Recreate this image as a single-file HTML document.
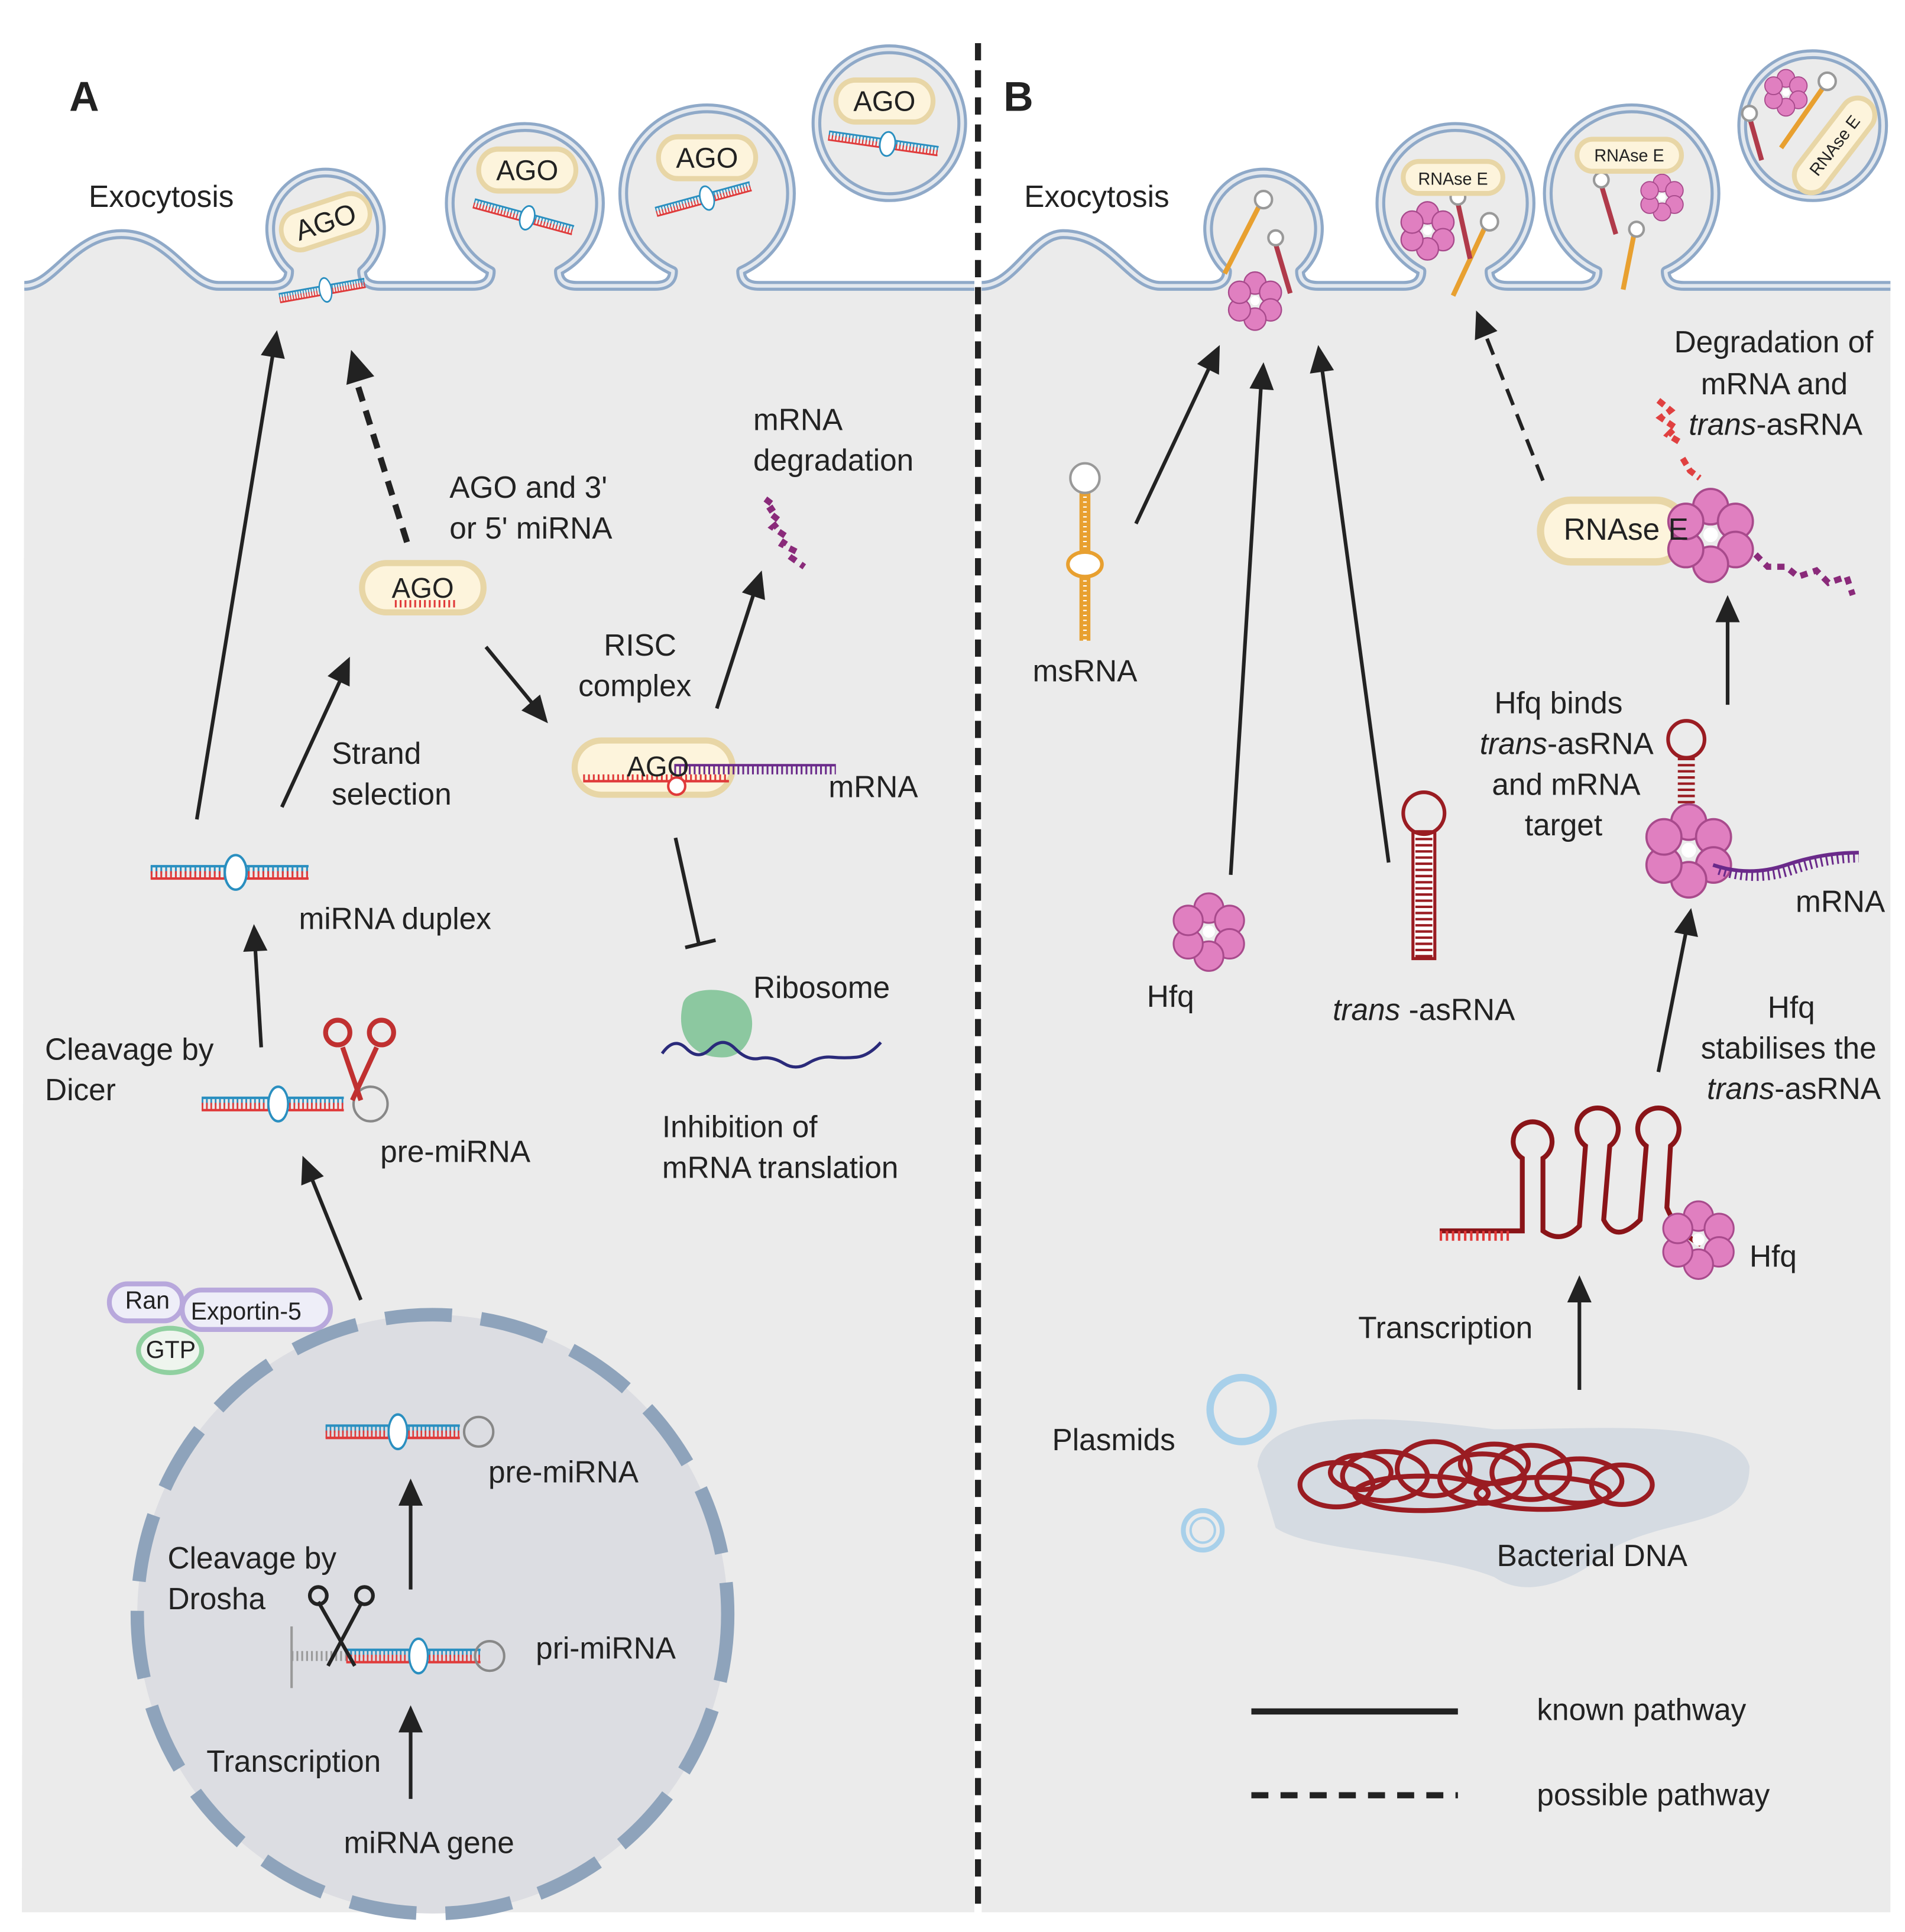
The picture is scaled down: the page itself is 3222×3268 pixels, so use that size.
<!DOCTYPE html>
<html><head><meta charset="utf-8"><style>
html,body{margin:0;padding:0;background:#fff}
svg{display:block}
text{font-family:"Liberation Sans",sans-serif;font-size:25px;fill:#222}
</style></head><body>
<svg width="3222" height="3268" viewBox="0 0 1568 1568" preserveAspectRatio="none" xmlns="http://www.w3.org/2000/svg">
<defs>
<g id="hfq">
<circle cx="0" cy="-19" r="12" fill="#e07fc0" stroke="#a84a8c" stroke-width="1.5"/>
<circle cx="17" cy="-9" r="12" fill="#e07fc0" stroke="#a84a8c" stroke-width="1.5"/>
<circle cx="17" cy="10" r="12" fill="#e07fc0" stroke="#a84a8c" stroke-width="1.5"/>
<circle cx="0" cy="20" r="12" fill="#e07fc0" stroke="#a84a8c" stroke-width="1.5"/>
<circle cx="-17" cy="10" r="12" fill="#e07fc0" stroke="#a84a8c" stroke-width="1.5"/>
<circle cx="-17" cy="-9" r="12" fill="#e07fc0" stroke="#a84a8c" stroke-width="1.5"/>
<circle cx="0" cy="0" r="5" fill="#fff"/>
</g>
<g id="dup">
<line x1="0" y1="-5" x2="130" y2="-5" stroke="#2a8fc0" stroke-width="2"/>
<line x1="0" y1="-2" x2="130" y2="-2" stroke="#2a8fc0" stroke-width="6" stroke-dasharray="1.5 2.5"/>
<line x1="0" y1="5" x2="130" y2="5" stroke="#e03a3a" stroke-width="2"/>
<line x1="0" y1="2" x2="130" y2="2" stroke="#e03a3a" stroke-width="6" stroke-dasharray="1.5 2.5"/>
<ellipse cx="70" cy="0" rx="9" ry="14" fill="#fff" stroke="#2a8fc0" stroke-width="2"/>
</g>
<g id="ago">
<rect x="-50" y="-20" width="100" height="40" rx="20" fill="#fdf4dc" stroke="#e8d6a6" stroke-width="5"/>
</g>
</defs>

<path d="M20 232 C45 232 60 190 100 190 C140 190 155 232 180 232 L223 232 Q238 232 238 220 A45.6 45.6 0 1 1 298 220 Q298 232 313 232 L389 232 Q404 232 404 220 A61.8 61.8 0 1 1 460 220 Q460 232 475 232 L539 232 Q554 232 554 220 A69 69 0 1 1 610 220 Q610 232 625 232 L802 232 L802 1552 L18 1552 Z" fill="#ebebeb"/>
<path d="M808 232 C835 232 850 190 875 190 C915 190 930 232 955 232 L995 232 Q1010 232 1010 220 A45.6 45.6 0 1 1 1070 220 Q1070 232 1085 232 L1155 232 Q1170 232 1170 220 A61.8 61.8 0 1 1 1226 220 Q1226 232 1241 232 L1300 232 Q1315 232 1315 220 A69 69 0 1 1 1371 220 Q1371 232 1386 232 L1556 232 L1556 1552 L808 1552 Z" fill="#ebebeb"/>
<g fill="none" stroke-linejoin="round">
<path d="M20 232 C45 232 60 190 100 190 C140 190 155 232 180 232 L223 232 Q238 232 238 220 A45.6 45.6 0 1 1 298 220 Q298 232 313 232 L389 232 Q404 232 404 220 A61.8 61.8 0 1 1 460 220 Q460 232 475 232 L539 232 Q554 232 554 220 A69 69 0 1 1 610 220 Q610 232 625 232 L802 232" stroke="#8fa9c8" stroke-width="8"/>
<path d="M20 232 C45 232 60 190 100 190 C140 190 155 232 180 232 L223 232 Q238 232 238 220 A45.6 45.6 0 1 1 298 220 Q298 232 313 232 L389 232 Q404 232 404 220 A61.8 61.8 0 1 1 460 220 Q460 232 475 232 L539 232 Q554 232 554 220 A69 69 0 1 1 610 220 Q610 232 625 232 L802 232" stroke="#e3e8ee" stroke-width="3"/>
<path d="M808 232 C835 232 850 190 875 190 C915 190 930 232 955 232 L995 232 Q1010 232 1010 220 A45.6 45.6 0 1 1 1070 220 Q1070 232 1085 232 L1155 232 Q1170 232 1170 220 A61.8 61.8 0 1 1 1226 220 Q1226 232 1241 232 L1300 232 Q1315 232 1315 220 A69 69 0 1 1 1371 220 Q1371 232 1386 232 L1556 232" stroke="#8fa9c8" stroke-width="8"/>
<path d="M808 232 C835 232 850 190 875 190 C915 190 930 232 955 232 L995 232 Q1010 232 1010 220 A45.6 45.6 0 1 1 1070 220 Q1070 232 1085 232 L1155 232 Q1170 232 1170 220 A61.8 61.8 0 1 1 1226 220 Q1226 232 1241 232 L1300 232 Q1315 232 1315 220 A69 69 0 1 1 1371 220 Q1371 232 1386 232 L1556 232" stroke="#e3e8ee" stroke-width="3"/>
</g>
<circle cx="732" cy="100" r="60" fill="#ebebeb" stroke="#8fa9c8" stroke-width="8"/>
<circle cx="732" cy="100" r="60" fill="none" stroke="#e3e8ee" stroke-width="3"/>
<circle cx="1492" cy="102" r="58" fill="#ebebeb" stroke="#8fa9c8" stroke-width="8"/>
<circle cx="1492" cy="102" r="58" fill="none" stroke="#e3e8ee" stroke-width="3"/>

<line x1="805" y1="35" x2="805" y2="1552" stroke="#222" stroke-width="5" stroke-dasharray="14 8"/>

<g transform="translate(268,180) rotate(-18)"><use href="#ago" transform="scale(0.75,0.8)"/><text x="0" y="8" text-anchor="middle" style="font-size:23px">AGO</text></g>
<use href="#dup" transform="translate(230,242) rotate(-10) scale(0.55,0.7)"/>
<use href="#ago" transform="translate(434,138) scale(0.8,0.85)"/><text x="434" y="146" text-anchor="middle" style="font-size:23px">AGO</text>
<use href="#dup" transform="translate(390,165) rotate(15) scale(0.65,0.7)"/>
<use href="#ago" transform="translate(582,128) scale(0.8,0.85)"/><text x="582" y="136" text-anchor="middle" style="font-size:23px">AGO</text>
<use href="#dup" transform="translate(540,172) rotate(-15) scale(0.62,0.7)"/>
<use href="#ago" transform="translate(728,82) scale(0.8,0.85)"/><text x="728" y="90" text-anchor="middle" style="font-size:23px">AGO</text>
<use href="#dup" transform="translate(682,110) rotate(8) scale(0.7,0.7)"/>

<g stroke="#e8a030" stroke-width="4" fill="none"><line x1="1008" y1="222" x2="1036" y2="168"/><line x1="1196" y1="240" x2="1222" y2="185"/><line x1="1336" y1="235" x2="1345" y2="190"/><line x1="1466" y1="120" x2="1500" y2="72"/></g>
<g stroke="#b03a4a" stroke-width="4" fill="none"><line x1="1062" y1="238" x2="1050" y2="198"/><line x1="1210" y1="210" x2="1200" y2="165"/><line x1="1330" y1="190" x2="1318" y2="150"/><line x1="1450" y1="130" x2="1440" y2="95"/></g>
<g fill="#fff" stroke="#999" stroke-width="2"><circle cx="1040" cy="162" r="7"/><circle cx="1050" cy="193" r="6"/><circle cx="1226" cy="180" r="7"/><circle cx="1200" cy="160" r="6"/><circle cx="1347" cy="186" r="6"/><circle cx="1318" cy="146" r="6"/><circle cx="1504" cy="66" r="7"/><circle cx="1440" cy="92" r="6"/></g>
<use href="#hfq" transform="translate(1033,244) scale(0.75)"/>
<use href="#hfq" transform="translate(1175,187) scale(0.75)"/>
<use href="#hfq" transform="translate(1368,160) scale(0.6)"/>
<use href="#hfq" transform="translate(1470,75) scale(0.6)"/>
<rect x="1155" y="131" width="82" height="26" rx="13" fill="#fdf4dc" stroke="#e8d6a6" stroke-width="4"/><text x="1196" y="150" text-anchor="middle" style="font-size:14px">RNAse E</text>
<rect x="1298" y="113" width="86" height="26" rx="13" fill="#fdf4dc" stroke="#e8d6a6" stroke-width="4"/><text x="1341" y="131" text-anchor="middle" style="font-size:14px">RNAse E</text>
<g transform="translate(1510,118) rotate(-52)"><rect x="-45" y="-14" width="90" height="28" rx="14" fill="#fdf4dc" stroke="#e8d6a6" stroke-width="4"/><text x="0" y="5" text-anchor="middle" style="font-size:14px">RNAse E</text></g>

<text x="57" y="90" style="font-size:34px;font-weight:bold">A</text>
<text x="826" y="90" style="font-size:34px;font-weight:bold">B</text>
<text x="73" y="168">Exocytosis</text>
<text x="843" y="168">Exocytosis</text>

<use href="#ago" transform="translate(348,477)"/><text x="348" y="485" text-anchor="middle" style="font-size:23px">AGO</text>
<line x1="325" y1="490" x2="375" y2="490" stroke="#e03a3a" stroke-width="6" stroke-dasharray="1.5 2.5"/>
<rect x="473" y="601" width="130" height="44" rx="22" fill="#fdf4dc" stroke="#e8d6a6" stroke-width="5"/>
<line x1="480" y1="634" x2="600" y2="634" stroke="#e03a3a" stroke-width="2"/>
<line x1="480" y1="631" x2="600" y2="631" stroke="#e03a3a" stroke-width="5" stroke-dasharray="1.5 2.5"/>
<line x1="555" y1="621" x2="688" y2="621" stroke="#6a2a8a" stroke-width="2"/>
<line x1="555" y1="625" x2="688" y2="625" stroke="#6a2a8a" stroke-width="7" stroke-dasharray="1.5 2.5"/>
<circle cx="557" cy="638" r="7" fill="#fff" stroke="#e03a3a" stroke-width="2"/>
<text x="516" y="630" style="font-size:23px">AGO</text>
<use href="#dup" transform="translate(124,708)"/>
<use href="#dup" transform="translate(166,896) scale(0.9,1)"/>
<circle cx="305" cy="896" r="14" fill="none" stroke="#888" stroke-width="2"/>
<g stroke="#c03030" stroke-width="4" fill="none"><line x1="282" y1="850" x2="297" y2="893"/><line x1="310" y1="850" x2="290" y2="893"/><circle cx="278" cy="838" r="10"/><circle cx="314" cy="838" r="10"/></g>
<path d="M630 405 l8 6 -6 4 10 8 -6 5 12 8 -4 6 12 6 -4 5 10 7" fill="none" stroke="#8a2a7a" stroke-width="5" stroke-dasharray="6 5"/>
<path d="M562 815 C565 800 600 800 612 812 C625 825 620 855 598 858 C575 860 555 845 562 815 Z" fill="#8cc8a0"/>
<path d="M545 855 q10 -14 20 -4 t20 0 t20 0 t20 8 t20 4 t20 0 t20 -5 t20 0 t20 -12" fill="none" stroke="#2a2a7a" stroke-width="2.5"/>
<rect x="90" y="1042" width="60" height="30" rx="15" fill="#eeeef8" stroke="#b8a8dc" stroke-width="4"/>
<rect x="150" y="1047" width="122" height="32" rx="16" fill="#eeeef8" stroke="#b8a8dc" stroke-width="4"/>
<ellipse cx="140" cy="1096" rx="26" ry="18" fill="#eef5ee" stroke="#90d0a0" stroke-width="4"/>
<circle cx="356" cy="1310" r="243" fill="#dcdde2" stroke="#8ea3bb" stroke-width="11" stroke-dasharray="55 24"/>
<use href="#dup" transform="translate(268,1162) scale(0.85,1)"/><circle cx="394" cy="1162" r="12" fill="none" stroke="#888" stroke-width="2"/>
<line x1="240" y1="1344" x2="290" y2="1344" stroke="#999" stroke-width="8" stroke-dasharray="1.5 2.5"/>
<line x1="240" y1="1320" x2="240" y2="1370" stroke="#999" stroke-width="2"/>
<use href="#dup" transform="translate(285,1344) scale(0.85,1)"/><circle cx="403" cy="1344" r="12" fill="none" stroke="#888" stroke-width="2"/>
<g stroke="#222" stroke-width="3" fill="none"><line x1="262" y1="1300" x2="292" y2="1352"/><line x1="298" y1="1300" x2="270" y2="1352"/><circle cx="262" cy="1295" r="7"/><circle cx="300" cy="1295" r="7"/></g>

<g fill="#222">
<text x="370" y="404">AGO and  3'</text><text x="370" y="437">or 5' miRNA</text>
<text x="620" y="349">mRNA</text><text x="620" y="382">degradation</text>
<text x="497" y="532">RISC</text><text x="476" y="565">complex</text>
<text x="273" y="620">Strand</text><text x="273" y="653">selection</text>
<text x="682" y="647">mRNA</text>
<text x="246" y="754">miRNA duplex</text>
<text x="620" y="810">Ribosome</text>
<text x="37" y="860">Cleavage by</text><text x="37" y="893">Dicer</text>
<text x="313" y="943">pre-miRNA</text>
<text x="545" y="923">Inhibition of</text><text x="545" y="956">mRNA translation</text>
<text x="103" y="1062" style="font-size:20px">Ran</text>
<text x="157" y="1071" style="font-size:20px">Exportin-5</text>
<text x="120" y="1102" style="font-size:20px">GTP</text>
<text x="402" y="1203">pre-miRNA</text>
<text x="138" y="1273">Cleavage by</text><text x="138" y="1306">Drosha</text>
<text x="441" y="1346">pri-miRNA</text>
<text x="170" y="1438">Transcription</text>
<text x="283" y="1504">miRNA gene</text>
</g>

<path d="M893 520 L893 400" stroke="#e8a030" stroke-width="9" fill="none"/>
<path d="M893 520 L893 400" stroke="#fff" stroke-width="3" stroke-dasharray="1 3" fill="none"/>
<circle cx="893" cy="388" r="12" fill="#fff" stroke="#999" stroke-width="2"/>
<ellipse cx="893" cy="458" rx="14" ry="10" fill="#fff" stroke="#e8a030" stroke-width="3"/>
<use href="#hfq" transform="translate(995,756)"/>
<rect x="1163" y="675" width="18" height="103" fill="#fff" stroke="#9a1c22" stroke-width="2.5"/>
<line x1="1172" y1="675" x2="1172" y2="778" stroke="#9a1c22" stroke-width="14" stroke-dasharray="2 3"/>
<circle cx="1172" cy="660" r="17" fill="none" stroke="#9a1c22" stroke-width="3"/>
<path d="M1035 1190 C1040 1140 1150 1150 1230 1160 C1320 1160 1430 1150 1440 1190 C1440 1240 1380 1230 1330 1255 C1300 1280 1260 1300 1230 1280 C1180 1260 1080 1260 1050 1240 Z" fill="#d5dbe2"/>
<g fill="none" stroke="#9a1c22" stroke-width="4">
<ellipse cx="1100" cy="1205" rx="30" ry="18"/><ellipse cx="1140" cy="1198" rx="35" ry="20"/><ellipse cx="1180" cy="1192" rx="30" ry="22"/><ellipse cx="1220" cy="1200" rx="35" ry="20"/><ellipse cx="1260" cy="1195" rx="32" ry="22"/><ellipse cx="1300" cy="1202" rx="35" ry="18"/><ellipse cx="1335" cy="1205" rx="25" ry="16"/><ellipse cx="1170" cy="1212" rx="55" ry="14"/><ellipse cx="1270" cy="1212" rx="55" ry="13"/><ellipse cx="1230" cy="1188" rx="28" ry="16"/><ellipse cx="1120" cy="1195" rx="25" ry="14"/>
</g>
<circle cx="1022" cy="1144" r="26" fill="none" stroke="#a8d0ea" stroke-width="6"/>
<circle cx="990" cy="1242" r="16" fill="none" stroke="#a8d0ea" stroke-width="4"/>
<circle cx="990" cy="1242" r="10" fill="none" stroke="#a8d0ea" stroke-width="2"/>
<line x1="1388" y1="615" x2="1388" y2="680" stroke="#9a1c22" stroke-width="14" stroke-dasharray="2 3"/>
<circle cx="1388" cy="600" r="15" fill="none" stroke="#9a1c22" stroke-width="3"/>
<use href="#hfq" transform="translate(1390,690) scale(1.2)"/>
<path d="M1410 702 q30 10 60 0 t60 -10" fill="none" stroke="#6a2a8a" stroke-width="3"/>
<path d="M1415 706 q30 10 60 0 t55 -10" fill="none" stroke="#6a2a8a" stroke-width="8" stroke-dasharray="1.5 3"/>
<rect x="1268" y="406" width="120" height="50" rx="25" fill="#fdf4dc" stroke="#e8d6a6" stroke-width="6"/>
<use href="#hfq" transform="translate(1408,434) scale(1.2)"/>
<path d="M1365 325 l10 8 -8 6 12 8 -6 6 10 6 M1385 372 l6 10 8 6" fill="none" stroke="#e04040" stroke-width="5" stroke-dasharray="6 4"/>
<path d="M1445 450 l10 10 15 0 10 8 15 -5 10 10 15 -5 5 15" fill="none" stroke="#8a2a7a" stroke-width="5" stroke-dasharray="6 5"/>
<g fill="none" stroke="#8a1418" stroke-width="4">
<path d="M1185 999 L1253 999 L1253 940 A16 16 0 1 1 1270 940 L1270 999 Q1285 1010 1300 995 L1305 930 A17 17 0 1 1 1325 930 L1320 990 Q1330 1010 1350 990 L1355 930 A17 17 0 1 1 1375 930 L1372 980 Q1380 1000 1400 1010"/>
</g>
<line x1="1185" y1="1003" x2="1245" y2="1003" stroke="#e03a3a" stroke-width="8" stroke-dasharray="2 3"/>
<use href="#hfq" transform="translate(1398,1006)"/>

<g fill="#222">
<text x="850" y="553">msRNA</text>
<text x="944" y="817">Hfq</text>
<text x="1097" y="828"><tspan font-style="italic">trans</tspan> -asRNA</text>
<text x="1378" y="286">Degradation of</text>
<text x="1400" y="320">mRNA and</text>
<text x="1390" y="353"><tspan font-style="italic">trans</tspan>-asRNA</text>
<text x="1287" y="438">RNAse E</text>
<text x="1230" y="579">Hfq binds</text>
<text x="1218" y="612"><tspan font-style="italic">trans</tspan>-asRNA</text>
<text x="1228" y="645">and mRNA</text>
<text x="1255" y="678">target</text>
<text x="1478" y="740">mRNA</text>
<text x="1455" y="826">Hfq</text>
<text x="1400" y="859">stabilises the</text>
<text x="1405" y="892"><tspan font-style="italic">trans</tspan>-asRNA</text>
<text x="1440" y="1028">Hfq</text>
<text x="1118" y="1086">Transcription</text>
<text x="866" y="1177">Plasmids</text>
<text x="1232" y="1271">Bacterial DNA</text>
<text x="1265" y="1396">known pathway</text>
<text x="1265" y="1465">possible pathway</text>
</g>
<line x1="1030" y1="1389" x2="1200" y2="1389" stroke="#222" stroke-width="5"/>
<line x1="1030" y1="1457" x2="1200" y2="1457" stroke="#222" stroke-width="5" stroke-dasharray="14 10"/>

<g stroke="#222" stroke-width="3" fill="none">
<line x1="162" y1="665" x2="225" y2="285"/>
<line x1="232" y1="655" x2="282" y2="548"/>
<line x1="400" y1="525" x2="440" y2="573"/>
<line x1="590" y1="575" x2="621" y2="480"/>
<line x1="215" y1="850" x2="210" y2="768"/>
<line x1="297" y1="1055" x2="256" y2="955"/>
<line x1="338" y1="1290" x2="338" y2="1218"/>
<line x1="338" y1="1460" x2="338" y2="1402"/>
<line x1="556" y1="680" x2="575" y2="765"/>
<line x1="564" y1="769" x2="589" y2="763"/>
<line x1="935" y1="425" x2="996" y2="297"/>
<line x1="1013" y1="710" x2="1038" y2="312"/>
<line x1="1143" y1="700" x2="1088" y2="298"/>
<line x1="1422" y1="572" x2="1422" y2="500"/>
<line x1="1365" y1="870" x2="1388" y2="755"/>
<line x1="1300" y1="1128" x2="1300" y2="1053"/>
</g>
<line x1="335" y1="440" x2="292" y2="305" stroke="#222" stroke-width="5" stroke-dasharray="12 8"/>
<line x1="1270" y1="390" x2="1222" y2="270" stroke="#222" stroke-width="3" stroke-dasharray="14 8"/>
<g fill="#222">
<polygon points="0,0 -10,22 10,22" transform="translate(228,268) rotate(9)"/>
<polygon points="0,0 -10,22 10,22" transform="translate(288,533) rotate(25)"/>
<polygon points="0,0 -10,22 10,22" transform="translate(451,587) rotate(140)"/>
<polygon points="0,0 -10,22 10,22" transform="translate(627,463) rotate(18)"/>
<polygon points="0,0 -10,22 10,22" transform="translate(209,750) rotate(-3)"/>
<polygon points="0,0 -10,22 10,22" transform="translate(249,938) rotate(-22)"/>
<polygon points="0,0 -10,22 10,22" transform="translate(338,1200)"/>
<polygon points="0,0 -10,22 10,22" transform="translate(338,1384)"/>
<polygon points="0,0 -12,26 12,26" transform="translate(289,284) rotate(-17)"/>
<polygon points="0,0 -10,22 10,22" transform="translate(1004,280) rotate(26)"/>
<polygon points="0,0 -10,22 10,22" transform="translate(1040,294) rotate(4)"/>
<polygon points="0,0 -10,22 10,22" transform="translate(1085,280) rotate(-8)"/>
<polygon points="0,0 -10,22 10,22" transform="translate(1215,252) rotate(-22)"/>
<polygon points="0,0 -10,22 10,22" transform="translate(1422,483)"/>
<polygon points="0,0 -10,22 10,22" transform="translate(1392,737) rotate(11)"/>
<polygon points="0,0 -10,22 10,22" transform="translate(1300,1035)"/>
</g>
</svg>
</body></html>
